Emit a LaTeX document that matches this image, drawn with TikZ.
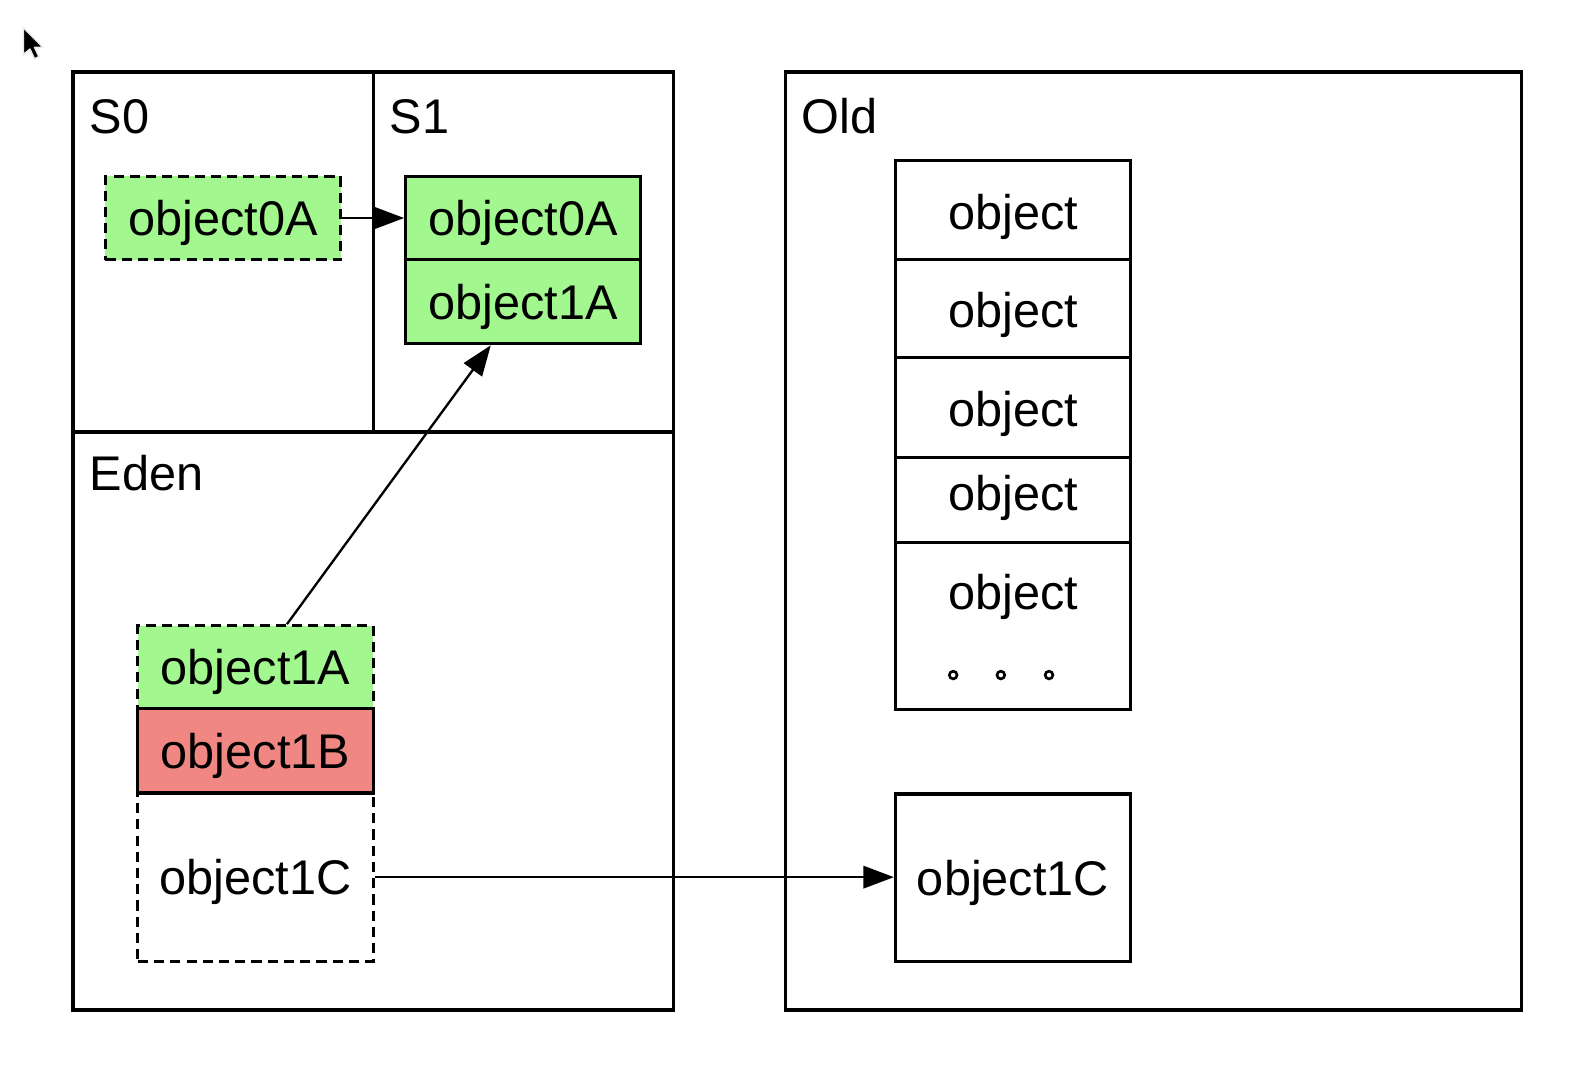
\documentclass[tikz,border=0pt]{standalone}
\usepackage{fontspec}
\setmainfont{Liberation Sans}
\usetikzlibrary{arrows.meta,calc}
\definecolor{objgreen}{RGB}{162,248,143}
\definecolor{objred}{RGB}{240,135,130}
\begin{document}
\begin{tikzpicture}[x=0.5pt,y=-0.5pt,
  frame/.style={draw=black,line width=1.5pt},
  txt/.style={font=\fontsize{24}{28}\selectfont,inner sep=0pt},
  obj/.style={draw=black,line width=1.5pt,minimum width=116pt,inner sep=0pt,
    font=\fontsize{24}{28}\selectfont,text height=17.2pt,text depth=0pt},
  dashedobj/.style={obj,dash pattern=on 5pt off 3pt},
  conn/.style={draw=black,line width=1.15pt,-{Triangle[length=15pt,width=11pt]}},
  dotc/.style={draw=black,line width=1.3pt}
]
\useasboundingbox (0,0) rectangle (1568,1073);

% mouse cursor
\filldraw[fill=black,draw=white!85!gray,line width=0.8pt,line join=round]
  (23,27) -- (23,54) -- (29.5,48.5) -- (34,58) -- (38.5,56) -- (34.2,46.8) -- (42.5,46.8) -- cycle;

% young generation frame
\draw[frame] (72,71) rectangle (664,996);
\draw[frame] (368,71) -- (368,426);
\draw[frame] (72,426) -- (664,426);
% old generation frame
\draw[frame] (775,71) rectangle (1500,996);

% region labels
\node[txt,anchor=base west] (lblS0) at (88,131.5) {S0};
\node[txt,anchor=base west] (lblS1) at (384,131.5) {S1};
\node[txt,anchor=base west] (lblEden) at (88,484) {Eden};
\node[txt,anchor=base west] (lblOld) at (790,131.5) {Old};

% S0
\node[dashedobj,fill=objgreen,minimum height=41pt] (s0a) at (220,215) {object0A};
% S1
\node[obj,fill=objgreen,minimum height=41pt] (s1a) at (516,215) {object0A};
\node[obj,fill=objgreen,minimum height=41.5pt] (s1b) at (516,297.5) {object1A};

% Eden
\node[dashedobj,fill=objgreen,minimum height=41pt] (e1a) at (252,658) {object1A};
\node[dashedobj,minimum height=83pt] (e1c) at (252,865) {object1C};
\node[obj,fill=objred,minimum height=41.5pt] (e1b) at (252,740.5) {object1B};

% Old stack
\node[obj,minimum height=49pt] (o1) at (999,207) {};
\node[obj,minimum height=48.5pt] (o2) at (999,304.5) {};
\node[obj,minimum height=49pt] (o3) at (999,402) {};
\node[obj,minimum height=42pt] (o4) at (999,493) {};
\node[obj,minimum height=82.5pt] (o5) at (999,617.5) {};
\node[txt,anchor=base] (t1) at (999,226) {object};
\node[txt,anchor=base] (t2) at (999,322.5) {object};
\node[txt,anchor=base] (t3) at (999,421) {object};
\node[txt,anchor=base] (t4) at (999,503) {object};
\node[txt,anchor=base] (t5) at (999,601.5) {object};
\draw[dotc] (940,665.7) circle (1.9pt);
\draw[dotc] (987,665.7) circle (1.9pt);
\draw[dotc] (1034.5,665.7) circle (1.9pt);

\node[obj,minimum height=82.5pt] (oc) at (999,865.5) {object1C};

% connectors
\draw[conn] (s0a.east) -- (s1a.west);
\draw[conn] ($(e1a.north)+(31,0)$) -- ($(s1b.south)+(-32,0)$);
\draw[conn] (e1c.east) -- (e1c.east -| oc.west);
\end{tikzpicture}
\end{document}
